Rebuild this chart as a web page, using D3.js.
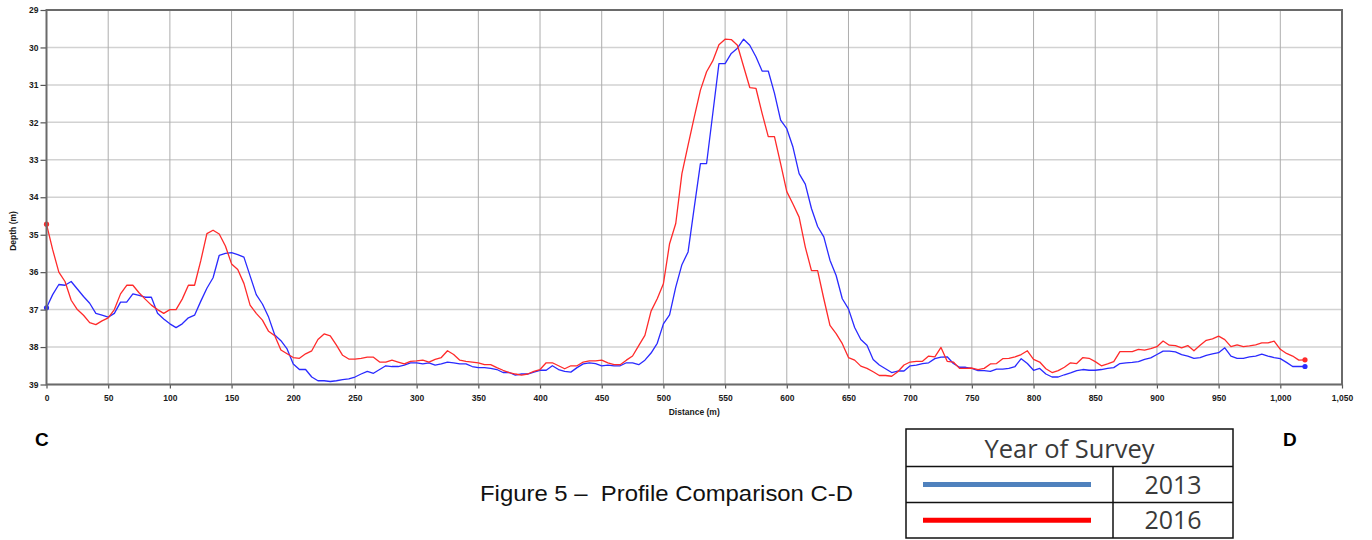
<!DOCTYPE html>
<html>
<head>
<meta charset="utf-8">
<script src="https://cdn.jsdelivr.net/npm/d3@7"></script>
<style>
   body { margin: 0; background: #fff; }
   svg { display: block; }
</style>
</head>
<body>
<div id="chart"></div>
<script>
// stations along the C-D profile, every 5 m
const distances = d3.range(0, 1021, 5);

const depth2013 = [
   36.95, 36.6, 36.33, 36.35, 36.25, 36.45, 36.65, 36.83, 37.1, 37.15,
   37.2, 37.1, 36.8, 36.8, 36.58, 36.62, 36.67, 36.67, 37.1, 37.25,
   37.38, 37.48, 37.38, 37.22, 37.15, 36.78, 36.43, 36.15, 35.55, 35.5,
   35.48, 35.53, 35.6, 36.1, 36.6, 36.85, 37.2, 37.68, 37.83, 38.05,
   38.45, 38.6, 38.6, 38.8, 38.9, 38.9, 38.92, 38.9, 38.87, 38.85,
   38.8, 38.72, 38.65, 38.7, 38.6, 38.5, 38.52, 38.52, 38.48, 38.42,
   38.42, 38.45, 38.42, 38.48, 38.45, 38.4, 38.42, 38.45, 38.45, 38.52,
   38.55, 38.55, 38.57, 38.6, 38.68, 38.68, 38.75, 38.72, 38.72, 38.67,
   38.62, 38.62, 38.5, 38.6, 38.65, 38.67, 38.55, 38.45, 38.42, 38.44,
   38.5, 38.48, 38.5, 38.5, 38.42, 38.42, 38.47, 38.35, 38.16, 37.9,
   37.38, 37.14, 36.4, 35.8, 35.46, 34.27, 33.1, 33.1, 31.77, 30.43,
   30.43, 30.16, 30.02, 29.78, 29.94, 30.25, 30.63, 30.63, 31.22, 31.94,
   32.17, 32.66, 33.37, 33.65, 34.3, 34.78, 35.06, 35.68, 36.09, 36.71,
   36.98, 37.48, 37.8, 37.95, 38.33, 38.48, 38.58, 38.68, 38.64, 38.64,
   38.5, 38.48, 38.44, 38.42, 38.31, 38.27, 38.26, 38.44, 38.54, 38.54,
   38.57, 38.63, 38.63, 38.65, 38.59, 38.59, 38.57, 38.52, 38.31, 38.44,
   38.62, 38.57, 38.72, 38.8, 38.8, 38.74, 38.69, 38.63, 38.6, 38.62,
   38.62, 38.6, 38.57, 38.55, 38.44, 38.42, 38.41, 38.39, 38.33, 38.29,
   38.2, 38.11, 38.11, 38.13, 38.2, 38.24, 38.3, 38.28, 38.22, 38.18,
   38.15, 38.02, 38.24, 38.3, 38.3, 38.26, 38.24, 38.19, 38.24, 38.28,
   38.31, 38.41, 38.52, 38.52, 38.52
];

const depth2016 = [
   34.72, 35.4, 36.0, 36.25, 36.75, 37.0, 37.15, 37.35, 37.4, 37.3,
   37.22, 37.0, 36.58, 36.35, 36.35, 36.55, 36.72, 36.88, 37.0, 37.1,
   37.0, 37.0, 36.72, 36.35, 36.35, 35.7, 34.97, 34.88, 34.98, 35.3,
   35.78, 35.93, 36.3, 36.88, 37.1, 37.28, 37.58, 37.7, 38.08, 38.18,
   38.28, 38.3, 38.18, 38.1, 37.8, 37.65, 37.7, 37.95, 38.22, 38.32,
   38.32, 38.3, 38.27, 38.27, 38.4, 38.4, 38.35, 38.4, 38.45, 38.38,
   38.37, 38.35, 38.4, 38.33, 38.28, 38.1, 38.2, 38.35, 38.38, 38.4,
   38.42, 38.47, 38.47, 38.55, 38.62, 38.68, 38.72, 38.75, 38.72, 38.65,
   38.6, 38.42, 38.42, 38.5, 38.58, 38.5, 38.5, 38.4, 38.37, 38.37,
   38.35, 38.42, 38.47, 38.47, 38.35, 38.24, 37.96, 37.69, 37.04, 36.71,
   36.31, 35.24, 34.7, 33.37, 32.61, 31.86, 31.14, 30.65, 30.36, 29.93,
   29.78, 29.79, 29.94, 30.51, 31.07, 31.09, 31.76, 32.38, 32.38, 33.1,
   33.85, 34.18, 34.53, 35.33, 35.96, 35.96, 36.71, 37.42, 37.64, 37.91,
   38.28, 38.35, 38.51, 38.57, 38.66, 38.76, 38.76, 38.78, 38.66, 38.48,
   38.4, 38.38, 38.38, 38.24, 38.26, 38.01, 38.38, 38.4, 38.57, 38.57,
   38.56, 38.6, 38.57, 38.45, 38.44, 38.31, 38.3, 38.26, 38.2, 38.1,
   38.33, 38.4, 38.58, 38.68, 38.63, 38.54, 38.42, 38.44, 38.28, 38.3,
   38.39, 38.5, 38.45, 38.39, 38.12, 38.12, 38.12, 38.06, 38.08, 38.04,
   37.99, 37.84, 37.95, 37.96, 38.02, 37.96, 38.1, 37.95, 37.82, 37.78,
   37.71, 37.8, 37.99, 37.94, 37.99, 37.97, 37.94, 37.89, 37.89, 37.84,
   38.06, 38.17, 38.24, 38.35, 38.34
];

const xTicks = d3.range(0, 1051, 50);
const yTicks = d3.range(29, 40, 1);

const surveys = [
   { year: "2013", values: depth2013, color: "#2a2aff", legendColor: "#4f81bd" },
   { year: "2016", values: depth2016, color: "#ff2a2a", legendColor: "#ff0000" }
];

class ProfileChartView {

   constructor(element) {
      this.Width = 1372;
      this.Height = 540;
      this.Margin = { top: 10, right: 30, bottom: 155.5, left: 46.5 };
      this.PlotWidth = this.Width - this.Margin.left - this.Margin.right;
      this.PlotHeight = this.Height - this.Margin.top - this.Margin.bottom;

      this.X = d3.scaleLinear().domain([0, 1050]).range([0, this.PlotWidth]);
      this.Y = d3.scaleLinear().domain([29, 39]).range([0, this.PlotHeight]);

      this.Svg = d3.select(element)
         .append("svg")
         .attr("width", this.Width)
         .attr("height", this.Height)
         .style("font-family", "'Liberation Sans', Arial, sans-serif");
   }

   DrawGrid(g) {
      g.selectAll(".hgrid")
         .data(yTicks)
         .enter()
         .append("line")
         .attr("x1", 0)
         .attr("x2", this.PlotWidth)
         .attr("y1", d => this.Y(d))
         .attr("y2", d => this.Y(d))
         .attr("stroke", "#d2d2d2")
         .attr("stroke-width", 1.5);

      g.selectAll(".vgrid")
         .data(xTicks)
         .enter()
         .append("line")
         .attr("x1", d => this.X(d))
         .attr("x2", d => this.X(d))
         .attr("y1", 0)
         .attr("y2", this.PlotHeight)
         .attr("stroke", "#adadad")
         .attr("stroke-width", 1);
   }

   DrawAxes(g) {
      let yAxis = g.append("g")
         .call(d3.axisLeft(this.Y).tickValues(yTicks).tickSize(6).tickPadding(2).tickFormat(d3.format("d")));
      let xAxis = g.append("g")
         .attr("transform", "translate(0," + this.PlotHeight + ")")
         .call(d3.axisBottom(this.X).tickValues(xTicks).tickSize(4).tickPadding(6).tickFormat(d3.format(",")));

      [xAxis, yAxis].forEach(a => {
         a.select(".domain").remove();
         a.selectAll(".tick line").attr("stroke", "#555").attr("stroke-width", 1.2);
         a.selectAll(".tick text")
            .attr("fill", "#1a1a1a")
            .style("font-size", "8.5px")
            .style("font-weight", "bold")
            .style("font-family", "'Liberation Sans', Arial, sans-serif");
      });

      // frame
      g.append("rect")
         .attr("width", this.PlotWidth)
         .attr("height", this.PlotHeight)
         .attr("fill", "none")
         .attr("stroke", "#6a6a6a")
         .attr("stroke-width", 2);

      g.append("text")
         .attr("x", this.PlotWidth / 2)
         .attr("y", this.PlotHeight + 30)
         .attr("text-anchor", "middle")
         .style("font-size", "8.5px")
         .style("font-weight", "bold")
         .attr("fill", "#1a1a1a")
         .text("Distance (m)");

      g.append("text")
         .attr("transform", "translate(-31," + (this.Y(34.9)) + ") rotate(-90)")
         .attr("text-anchor", "middle")
         .style("font-size", "8.5px")
         .style("font-weight", "bold")
         .attr("fill", "#1a1a1a")
         .text("Depth (m)");
   }

   DrawProfiles(g) {
      let line = d3.line()
         .x((d, i) => this.X(distances[i]))
         .y(d => this.Y(d));

      surveys.forEach(s => {
         g.append("path")
            .datum(s.values)
            .attr("fill", "none")
            .attr("stroke", s.color)
            .attr("stroke-width", 1.3)
            .attr("stroke-linejoin", "round")
            .attr("d", line);

         let ends = [0, s.values.length - 1];
         g.selectAll(null)
            .data(ends)
            .enter()
            .append("circle")
            .attr("cx", i => this.X(distances[i]))
            .attr("cy", i => this.Y(s.values[i]))
            .attr("r", 2.6)
            .attr("fill", s.color);
      });
   }

   DrawLabels() {
      let svg = this.Svg;
      svg.append("text")
         .attr("x", 35)
         .attr("y", 446)
         .style("font-size", "19px")
         .style("font-weight", "bold")
         .text("C");

      svg.append("text")
         .attr("x", 1283)
         .attr("y", 446)
         .style("font-size", "19px")
         .style("font-weight", "bold")
         .text("D");

      // caption is set in a condensed face in the original
      svg.append("text")
         .attr("x", 480)
         .attr("y", 501)
         .style("font-family", "'Liberation Sans Narrow', 'Liberation Sans', Arial, sans-serif")
         .style("font-size", "22px")
         .attr("fill", "#111")
         .attr("xml:space", "preserve")
         .attr("textLength", 373)
         .attr("lengthAdjust", "spacingAndGlyphs")
         .text("Figure 5 \u2013  Profile Comparison C-D");
   }

   DrawLegend() {
      let left = 906, right = 1233, mid = 1113;
      let rows = [429, 466.5, 502.5, 538];
      let lg = this.Svg.append("g")
         .style("font-family", "'Open Sans', 'Noto Sans', sans-serif")
         .attr("fill", "#3a3a3a");

      lg.append("rect")
         .attr("x", left)
         .attr("y", rows[0])
         .attr("width", right - left)
         .attr("height", rows[3] - rows[0])
         .attr("fill", "none")
         .attr("stroke", "#111")
         .attr("stroke-width", 1.5);

      [rows[1], rows[2]].forEach(y => {
         lg.append("line").attr("x1", left).attr("x2", right).attr("y1", y).attr("y2", y)
            .attr("stroke", "#111").attr("stroke-width", 1.5);
      });
      lg.append("line").attr("x1", mid).attr("x2", mid).attr("y1", rows[1]).attr("y2", rows[3])
         .attr("stroke", "#111").attr("stroke-width", 1.5);

      lg.append("text")
         .attr("x", (left + right) / 2)
         .attr("y", 458)
         .attr("text-anchor", "middle")
         .style("font-size", "25px")
         .attr("textLength", 170)
         .attr("lengthAdjust", "spacingAndGlyphs")
         .text("Year of Survey");

      surveys.forEach((s, i) => {
         let cy = (rows[i + 1] + rows[i + 2]) / 2;
         lg.append("line")
            .attr("x1", 923)
            .attr("x2", 1091)
            .attr("y1", cy)
            .attr("y2", cy)
            .attr("stroke", s.legendColor)
            .attr("stroke-width", 5);
         lg.append("text")
            .attr("x", (mid + right) / 2)
            .attr("y", cy + 9)
            .attr("text-anchor", "middle")
            .style("font-size", "25px")
            .text(s.year);
      });
   }

   Draw() {
      let g = this.Svg.append("g")
         .attr("transform", "translate(" + this.Margin.left + "," + this.Margin.top + ")");
      this.DrawGrid(g);
      this.DrawProfiles(g);
      this.DrawAxes(g);
      this.DrawLabels();
      this.DrawLegend();
   }
}

new ProfileChartView("#chart").Draw();
</script>
</body>
</html>
